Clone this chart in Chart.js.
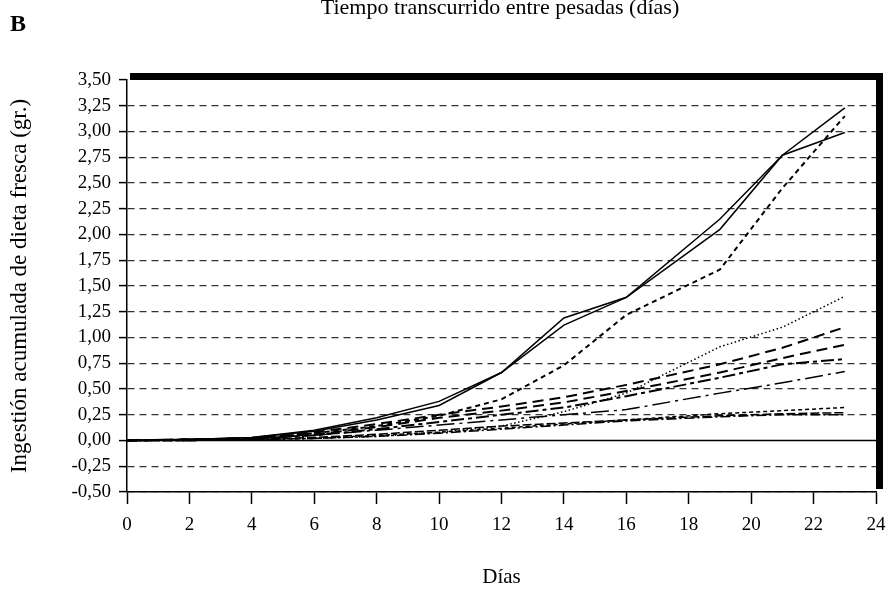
<!DOCTYPE html>
<html>
<head>
<meta charset="utf-8">
<script src="https://cdn.jsdelivr.net/npm/chart.js@4/dist/chart.umd.min.js"></script>
<style>
  html, body { margin: 0; padding: 0; background: #fff; }
  #wrap { width: 892px; height: 591px; position: relative; }
</style>
</head>
<body>
<div id="wrap"><canvas id="chart"></canvas></div>
<script>
// Días de pesada
const dias = [0, 2, 4, 6, 8, 10, 12, 14, 16, 19, 21, 23];

// Ingestión acumulada (gr.) por serie
const serieA = [0, 0.01, 0.03, 0.10, 0.22, 0.38, 0.66, 1.19, 1.39, 2.15, 2.77, 3.23];
const serieB = [0, 0.01, 0.03, 0.09, 0.20, 0.34, 0.66, 1.12, 1.39, 2.05, 2.77, 2.99];
const serieC = [0, 0.01, 0.02, 0.07, 0.14, 0.24, 0.40, 0.73, 1.22, 1.66, 2.45, 3.15];
const serieD = [0, 0, 0.01, 0.02, 0.04, 0.08, 0.14, 0.28, 0.46, 0.91, 1.10, 1.40];
const serieE = [0, 0.01, 0.02, 0.08, 0.16, 0.25, 0.33, 0.42, 0.54, 0.74, 0.90, 1.10];
const serieF = [0, 0.01, 0.02, 0.06, 0.13, 0.22, 0.29, 0.37, 0.48, 0.66, 0.80, 0.93];
const serieG = [0, 0.01, 0.02, 0.05, 0.11, 0.18, 0.25, 0.32, 0.43, 0.61, 0.74, 0.79];
const serieH = [0, 0.01, 0.02, 0.05, 0.10, 0.15, 0.20, 0.25, 0.30, 0.46, 0.56, 0.67];
const serieI = [0, 0, 0.01, 0.02, 0.05, 0.08, 0.12, 0.16, 0.20, 0.26, 0.29, 0.32];
const serieJ = [0, 0, 0.01, 0.03, 0.06, 0.10, 0.14, 0.17, 0.20, 0.24, 0.26, 0.27];
const serieK = [0, 0, 0.01, 0.02, 0.04, 0.07, 0.11, 0.15, 0.19, 0.23, 0.25, 0.25];

// Etiquetas de los ejes
const xTickLabels = ['0', '2', '4', '6', '8', '10', '12', '14', '16', '18', '20', '22', '24'];
const yTickLabels = ['-0,50', '-0,25', '0,00', '0,25', '0,50', '0,75', '1,00', '1,25', '1,50',
                     '1,75', '2,00', '2,25', '2,50', '2,75', '3,00', '3,25', '3,50'];

const serif = 'Liberation Serif, Times New Roman, serif';

function pts(ys) {
  return dias.map((d, i) => ({ x: d, y: ys[i] }));
}

function linea(ys, dash, width) {
  return {
    data: pts(ys),
    borderColor: '#000',
    borderWidth: width || 1.5,
    borderDash: dash,
    pointRadius: 0,
    tension: 0,
    fill: false
  };
}

// solid zero line, dark frame and loose texts
const adornos = {
  id: 'adornos',
  beforeDatasetsDraw(chart) {
    const { ctx, chartArea: a, scales: { y } } = chart;
    const y0 = y.getPixelForValue(0);
    ctx.save();
    ctx.strokeStyle = '#000';
    ctx.lineWidth = 1.5;
    ctx.beginPath();
    ctx.moveTo(a.left, y0);
    ctx.lineTo(a.right, y0);
    ctx.stroke();
    ctx.restore();
  },
  afterDraw(chart) {
    const { ctx, chartArea: a } = chart;
    ctx.save();
    ctx.fillStyle = '#000';
    ctx.fillRect(a.left + 3, a.top - 7, a.right - a.left + 4, 7);
    ctx.fillRect(a.right, a.top - 7, 7, a.bottom - a.top + 4);

    ctx.font = 'bold 24px ' + serif;
    ctx.textAlign = 'left';
    ctx.textBaseline = 'alphabetic';
    ctx.fillText('B', 10, 31);

    ctx.font = '22px ' + serif;
    ctx.textAlign = 'center';
    ctx.fillText('Tiempo transcurrido entre pesadas (días)', 500, 14);
    ctx.restore();
  }
};

const ctx = document.getElementById('chart');

new Chart(ctx, {
  type: 'line',
  data: {
    datasets: [
      linea(serieA, []),
      linea(serieB, []),
      linea(serieC, [5, 4], 2),
      linea(serieD, [1.5, 2.5], 1.5),
      linea(serieE, [11, 6], 2),
      linea(serieF, [11, 6], 2),
      linea(serieG, [13, 4, 4, 4], 2),
      linea(serieH, [18, 5, 3, 5], 1.5),
      linea(serieI, [4, 3], 1.5),
      linea(serieJ, [9, 3], 1.5),
      linea(serieK, [10, 3, 2, 3], 1.5)
    ]
  },
  options: {
    responsive: true,
    maintainAspectRatio: false,
    animation: false,
    layout: { padding: { top: 80, right: 16, left: 0, bottom: 0 } },
    plugins: {
      legend: { display: false },
      tooltip: { enabled: false }
    },
    scales: {
      x: {
        type: 'linear',
        min: 0,
        max: 24,
        afterFit: s => { s.height = 99; s.paddingLeft = 0; s.paddingRight = 0; },
        ticks: {
          stepSize: 2,
          autoSkip: false,
          color: '#000',
          padding: 10,
          maxRotation: 0,
          font: { family: serif, size: 19 },
          callback: (v, i) => xTickLabels[i]
        },
        grid: {
          drawOnChartArea: false,
          drawTicks: true,
          tickLength: 12,
          tickColor: '#000',
          tickWidth: 1.5
        },
        border: { display: true, color: '#000', width: 1.5 },
        title: {
          display: true,
          text: 'Días',
          color: '#000',
          font: { family: serif, size: 21 },
          padding: { top: 0, bottom: 1 }
        }
      },
      y: {
        min: -0.5,
        max: 3.5,
        afterFit: s => { s.width = 127; s.paddingTop = 0; s.paddingBottom = 0; },
        ticks: {
          stepSize: 0.25,
          autoSkip: false,
          color: '#000',
          padding: 8,
          font: { family: serif, size: 19 },
          callback: (v, i) => yTickLabels[i]
        },
        grid: {
          color: ctx => (ctx.tick && ctx.tick.value === 0) || ctx.index === 16 ? 'rgba(0,0,0,0)' : '#333',
          lineWidth: 1.2,
          drawTicks: true,
          tickLength: 8,
          tickColor: '#000',
          tickWidth: 1.5
        },
        border: { display: true, color: '#000', width: 1.5, dash: [7, 5] },
        title: {
          display: true,
          text: 'Ingestión acumulada de dieta fresca (gr.)',
          color: '#000',
          font: { family: serif, size: 23 },
          padding: { top: 6, bottom: 0 }
        }
      }
    }
  },
  plugins: [adornos]
});
</script>
</body>
</html>
